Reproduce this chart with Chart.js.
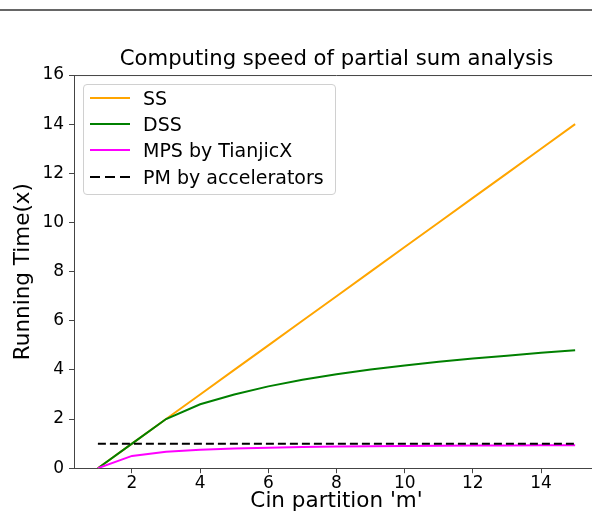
<!DOCTYPE html>
<html>
<head>
<meta charset="utf-8">
<script src="https://cdn.jsdelivr.net/npm/chart.js@4/dist/chart.umd.min.js"></script>
<style>
  html, body { margin: 0; padding: 0; background: #fff; overflow: hidden; width: 592px; height: 512px; }
  #wrap { position: relative; width: 592px; height: 512px; overflow: hidden; }
  #topline { position: absolute; left: 0; top: 9px; width: 592px; height: 2px; background: #666; }
  #c { position: absolute; left: 0; top: 0; }
  #legend { position: absolute; left: 83px; top: 84px; width: 253px; height: 111px; border: 1px solid #d0d0d0; border-radius: 4px; background: rgba(255,255,255,0.8); font-family: "DejaVu Sans", sans-serif; font-size: 19px; color: #000; box-sizing: border-box; }
  .item { position: absolute; left: 0; height: 22px; line-height: 22px; white-space: nowrap; }
  .sample { position: absolute; left: 6px; top: 10px; width: 40px; height: 2px; }
  .lbl { position: absolute; left: 59px; top: 0; }
</style>
</head>
<body>
<div id="wrap">
  <div id="topline"></div>
  <canvas id="c" width="610" height="517"></canvas>
  <div id="legend"></div>
</div>
<script>
const xValues = [1, 2, 3, 4, 5, 6, 7, 8, 9, 10, 11, 12, 13, 14, 15];
const ssValues = [0, 1, 2, 3, 4, 5, 6, 7, 8, 9, 10, 11, 12, 13, 14];
const dssValues = [0, 1, 2, 2.6, 3.0, 3.33, 3.6, 3.82, 4.02, 4.18, 4.33, 4.46, 4.58, 4.7, 4.8];
const mpsValues = [0, 0.5, 0.67, 0.75, 0.8, 0.83, 0.86, 0.88, 0.89, 0.9, 0.91, 0.92, 0.92, 0.93, 0.93];
const pmX = [1, 15];
const pmValues = [1, 1];
const seriesLabels = ["SS", "DSS", "MPS by TianjicX", "PM by accelerators"];
const seriesColors = ["#FFA500", "#008000", "#FF00FF", "#000000"];
const xTicks = [2, 4, 6, 8, 10, 12, 14];
const yTicks = [0, 2, 4, 6, 8, 10, 12, 14, 16];

const pts = (xs, ys) => xs.map((x, i) => ({ x: x, y: ys[i] }));

const FONT = '"DejaVu Sans", sans-serif';

const framePlugin = {
  id: 'frame',
  afterDatasetsDraw(chart) {
    const a = chart.chartArea, ctx = chart.ctx;
    ctx.save();
    ctx.strokeStyle = '#444';
    ctx.lineWidth = 1;
    ctx.beginPath();
    ctx.moveTo(a.left, a.top + 0.5);
    ctx.lineTo(a.right, a.top + 0.5);
    ctx.lineTo(a.right, a.bottom);
    ctx.stroke();
    ctx.restore();
  }
};

const common = { fill: false, pointRadius: 0, borderWidth: 2, tension: 0, showLine: true };

new Chart(document.getElementById('c'), {
  type: 'scatter',
  data: {
    datasets: [
      { ...common, label: seriesLabels[0], data: pts(xValues, ssValues), borderColor: seriesColors[0], order: 4 },
      { ...common, label: seriesLabels[1], data: pts(xValues, dssValues), borderColor: seriesColors[1], order: 3 },
      { ...common, label: seriesLabels[2], data: pts(xValues, mpsValues), borderColor: seriesColors[2], order: 2 },
      { ...common, label: seriesLabels[3], data: pts(pmX, pmValues), borderColor: seriesColors[3], borderDash: [8, 4], order: 1 }
    ]
  },
  options: {
    responsive: false,
    animation: false,
    layout: { padding: { left: 0, right: 11, top: 0, bottom: 0 } },
    plugins: {
      legend: { display: false },
      tooltip: { enabled: false },
      title: {
        display: true,
        fullSize: false,
        text: 'Computing speed of partial sum analysis',
        color: '#000',
        font: { family: FONT, size: 21.2, weight: 'normal' },
        padding: { top: 47, bottom: 2.6 }
      }
    },
    scales: {
      x: {
        type: 'linear',
        min: 0.3, max: 15.7,
        afterBuildTicks: (s) => { s.ticks = xTicks.map(v => ({ value: v })); },
        ticks: { color: '#000', font: { family: FONT, size: 17, lineHeight: 1 }, padding: 2, maxRotation: 0 },
        grid: { display: true, drawOnChartArea: false, drawTicks: true, tickLength: 5, color: '#444' },
        border: { display: true, color: '#444', width: 1 },
        title: { display: true, text: "Cin partition 'm'", color: '#000', font: { family: FONT, size: 21.5 }, padding: { top: -5.5, bottom: 2.5 } }
      },
      y: {
        type: 'linear',
        min: 0, max: 16,
        afterBuildTicks: (s) => { s.ticks = yTicks.map(v => ({ value: v })); },
        ticks: { color: '#000', font: { family: FONT, size: 17 }, padding: 5 },
        grid: { display: true, drawOnChartArea: false, drawTicks: true, tickLength: 5, color: '#444' },
        border: { display: true, color: '#444', width: 1 },
        title: { display: true, text: 'Running Time(x)', color: '#000', font: { family: FONT, size: 21.5 }, padding: { top: 11, bottom: 0.6 } }
      }
    }
  },
  plugins: [framePlugin]
});

// HTML legend built from the series arrays
const legend = document.getElementById('legend');
const tops = [2, 28, 54, 81];
seriesLabels.forEach((lab, i) => {
  const item = document.createElement('div');
  item.className = 'item';
  item.style.top = tops[i] + 'px';
  const s = document.createElement('div');
  s.className = 'sample';
  if (i === 3) {
    s.style.background = 'repeating-linear-gradient(to right, ' + seriesColors[i] + ' 0 10px, transparent 10px 15px)';
  } else {
    s.style.background = seriesColors[i];
  }
  const t = document.createElement('div');
  t.className = 'lbl';
  t.textContent = lab;
  item.appendChild(s);
  item.appendChild(t);
  legend.appendChild(item);
});
</script>
</body>
</html>
